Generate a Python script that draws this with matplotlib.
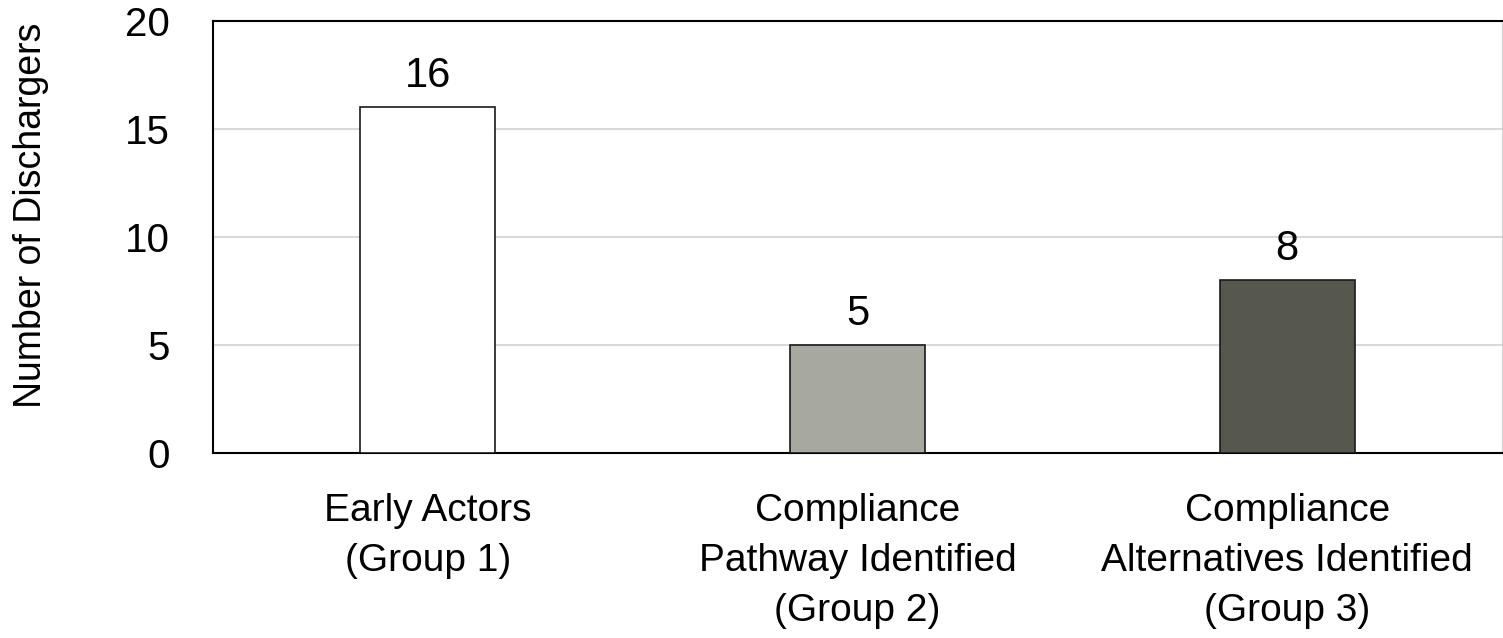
import matplotlib
matplotlib.use("Agg")
import matplotlib.pyplot as plt
from matplotlib import font_manager

names = {f.name for f in font_manager.fontManager.ttflist}
fam = ['Liberation Sans Narrow', 'Liberation Sans', 'DejaVu Sans']
fam = [f for f in fam if f in names] + ['DejaVu Sans']
plt.rcParams['font.family'] = fam

categories = ["Early Actors\n(Group 1)",
              "Compliance\nPathway Identified\n(Group 2)",
              "Compliance\nAlternatives Identified\n(Group 3)"]
values = [16, 5, 8]
colors = ["#FFFFFF", "#A7A89F", "#56574D"]
yticks = [0, 5, 10, 15, 20]

fig = plt.figure(figsize=(15.03, 6.38), dpi=100)
ax = fig.add_axes([213/1503, 1-453/638, (1502-213)/1503, (453-21)/638])

x = range(len(values))
bars = ax.bar(x, values, width=0.314, color=colors, edgecolor="#1a1a1a", linewidth=1.2, zorder=3)
for xi, v in zip(x, values):
    ax.text(xi, v + 0.93, str(v), ha="center", va="baseline", fontsize=30, color="black")

ax.set_xlim(-0.5, 2.5)
ax.set_ylim(0, 20)
ax.set_yticks(yticks)
ax.set_yticklabels([str(t) for t in yticks], fontsize=29)
ax.set_xticks(list(x))
ax.set_xticklabels(categories, fontsize=28, linespacing=1.5)
ax.tick_params(axis="y", length=0, pad=31)
ax.tick_params(axis="x", length=0, pad=29)
ax.grid(axis="y", color="#d9d9d9", linewidth=1.5, zorder=0)
for s in ["left", "top", "bottom"]:
    ax.spines[s].set_color("black")
    ax.spines[s].set_linewidth(1.5)
ax.spines["right"].set_color("#d0d0d0")
ax.set_ylabel("Number of Dischargers", fontsize=27)
ax.yaxis.set_label_coords(-0.127, 0.55)

fig.savefig("out.png", dpi=100)
